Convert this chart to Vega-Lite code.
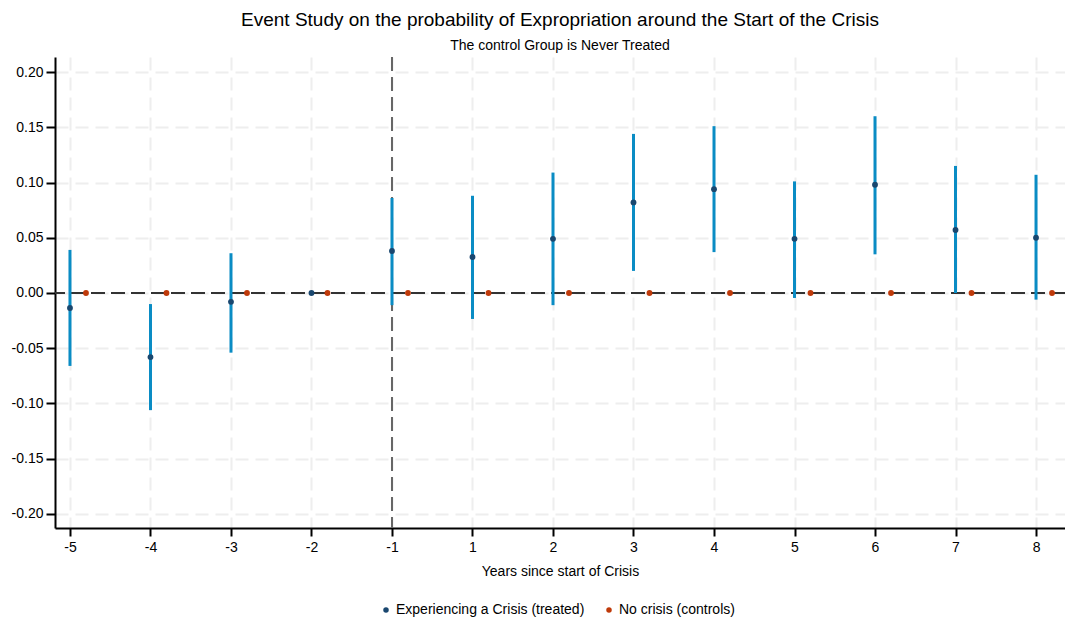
{
  "$schema": "https://vega.github.io/schema/vega-lite/v6.json",
  "width": 1010,
  "height": 471,
  "autosize": "none",
  "padding": {"left": 55, "top": 57, "right": 0, "bottom": 93},
  "background": "white",
  "title": {
    "text": "Event Study on the probability of Expropriation around the Start of the Crisis",
    "subtitle": "The control Group is Never Treated",
    "font": "Liberation Sans",
    "subtitleFont": "Liberation Sans",
    "fontSize": 19,
    "subtitleFontSize": 14,
    "fontWeight": "normal",
    "color": "black",
    "subtitleColor": "black",
    "anchor": "middle",
    "offset": 3,
    "subtitlePadding": 9
  },
  "config": {
    "view": {"stroke": null},
    "font": "Liberation Sans",
    "axis": {
      "grid": true,
      "gridColor": "#eeeeee",
      "gridDash": [13, 7],
      "gridWidth": 2,
      "domainColor": "black",
      "domainWidth": 2,
      "tickColor": "black",
      "tickWidth": 2,
      "labelFont": "Liberation Sans",
      "labelFontSize": 14,
      "labelColor": "black",
      "titleFont": "Liberation Sans",
      "titleFontSize": 14,
      "titleFontWeight": "normal",
      "titleColor": "black"
    },
    "axisX": {"tickSize": 8, "labelPadding": 4, "titlePadding": 10},
    "axisY": {"tickSize": 9, "labelPadding": 3},
    "legend": {
      "labelFont": "Liberation Sans",
      "labelFontSize": 14,
      "labelColor": "black",
      "labelLimit": 400,
      "labelOffset": 3,
      "symbolSize": 30,
      "symbolType": "circle",
      "columnPadding": 17
    }
  },
  "datasets": {
    "treated": [
      {"t": -5, "idx": 1, "b": -0.0136, "lo": -0.066, "hi": 0.039},
      {"t": -4, "idx": 2, "b": -0.058, "lo": -0.106, "hi": -0.010},
      {"t": -3, "idx": 3, "b": -0.008, "lo": -0.054, "hi": 0.036},
      {"t": -2, "idx": 4, "b": 0.0, "lo": 0.0, "hi": 0.0},
      {"t": -1, "idx": 5, "b": 0.038, "lo": -0.011, "hi": 0.086},
      {"t": 1, "idx": 6, "b": 0.0326, "lo": -0.0235, "hi": 0.088},
      {"t": 2, "idx": 7, "b": 0.049, "lo": -0.011, "hi": 0.109},
      {"t": 3, "idx": 8, "b": 0.082, "lo": 0.020, "hi": 0.144},
      {"t": 4, "idx": 9, "b": 0.094, "lo": 0.037, "hi": 0.151},
      {"t": 5, "idx": 10, "b": 0.049, "lo": -0.0045, "hi": 0.101},
      {"t": 6, "idx": 11, "b": 0.098, "lo": 0.035, "hi": 0.160},
      {"t": 7, "idx": 12, "b": 0.057, "lo": 0.0, "hi": 0.115},
      {"t": 8, "idx": 13, "b": 0.050, "lo": -0.006, "hi": 0.107}
    ],
    "controls": [
      {"t": -5, "idx": 1, "b": 0},
      {"t": -4, "idx": 2, "b": 0},
      {"t": -3, "idx": 3, "b": 0},
      {"t": -2, "idx": 4, "b": 0},
      {"t": -1, "idx": 5, "b": 0},
      {"t": 1, "idx": 6, "b": 0},
      {"t": 2, "idx": 7, "b": 0},
      {"t": 3, "idx": 8, "b": 0},
      {"t": 4, "idx": 9, "b": 0},
      {"t": 5, "idx": 10, "b": 0},
      {"t": 6, "idx": 11, "b": 0},
      {"t": 7, "idx": 12, "b": 0},
      {"t": 8, "idx": 13, "b": 0}
    ],
    "refs": [{"event": -1, "idx": 5, "zero": 0}]
  },
  "layer": [
    {
      "data": {"name": "refs"},
      "mark": {"type": "rule", "color": "#666666", "strokeWidth": 2, "strokeDash": [14, 6]},
      "encoding": {
        "x": {
          "field": "idx",
          "type": "quantitative",
          "scale": {"domain": [0.814, 13.36], "nice": false, "zero": false},
          "axis": {
            "values": [1, 2, 3, 4, 5, 6, 7, 8, 9, 10, 11, 12, 13],
            "labelExpr": "'' + (datum.value <= 5 ? datum.value - 6 : datum.value - 5)",
            "title": "Years since start of Crisis"
          }
        }
      }
    },
    {
      "data": {"name": "refs"},
      "mark": {"type": "rule", "color": "#333333", "strokeWidth": 2, "strokeDash": [14, 6]},
      "encoding": {
        "y": {
          "field": "zero",
          "type": "quantitative",
          "scale": {"domain": [-0.2127, 0.2136], "nice": false, "zero": false},
          "axis": {
            "values": [-0.2, -0.15, -0.1, -0.05, 0, 0.05, 0.1, 0.15, 0.2],
            "labelExpr": "replace(format(datum.value, '.2f'), '\u2212', '-')",
            "title": null
          }
        }
      }
    },
    {
      "data": {"name": "treated"},
      "mark": {"type": "rule", "color": "#0a8cc4", "strokeWidth": 3},
      "encoding": {
        "x": {"field": "idx", "type": "quantitative"},
        "y": {"field": "lo", "type": "quantitative"},
        "y2": {"field": "hi"}
      }
    },
    {
      "data": {"name": "treated"},
      "mark": {"type": "point", "filled": true, "opacity": 1, "size": 34, "shape": "circle"},
      "encoding": {
        "x": {"field": "idx", "type": "quantitative"},
        "y": {"field": "b", "type": "quantitative"},
        "color": {
          "datum": "Experiencing a Crisis (treated)",
          "scale": {
            "domain": ["Experiencing a Crisis (treated)", "No crisis (controls)"],
            "range": ["#1a476f", "#bf3a0a"]
          },
          "legend": {
            "title": null,
            "orient": "none",
            "direction": "horizontal",
            "legendX": 324,
            "legendY": 546
          }
        }
      }
    },
    {
      "data": {"name": "controls"},
      "mark": {"type": "point", "filled": true, "opacity": 1, "size": 34, "shape": "circle", "xOffset": 16},
      "encoding": {
        "x": {"field": "idx", "type": "quantitative"},
        "y": {"field": "b", "type": "quantitative"},
        "color": {"datum": "No crisis (controls)"}
      }
    }
  ]
}
